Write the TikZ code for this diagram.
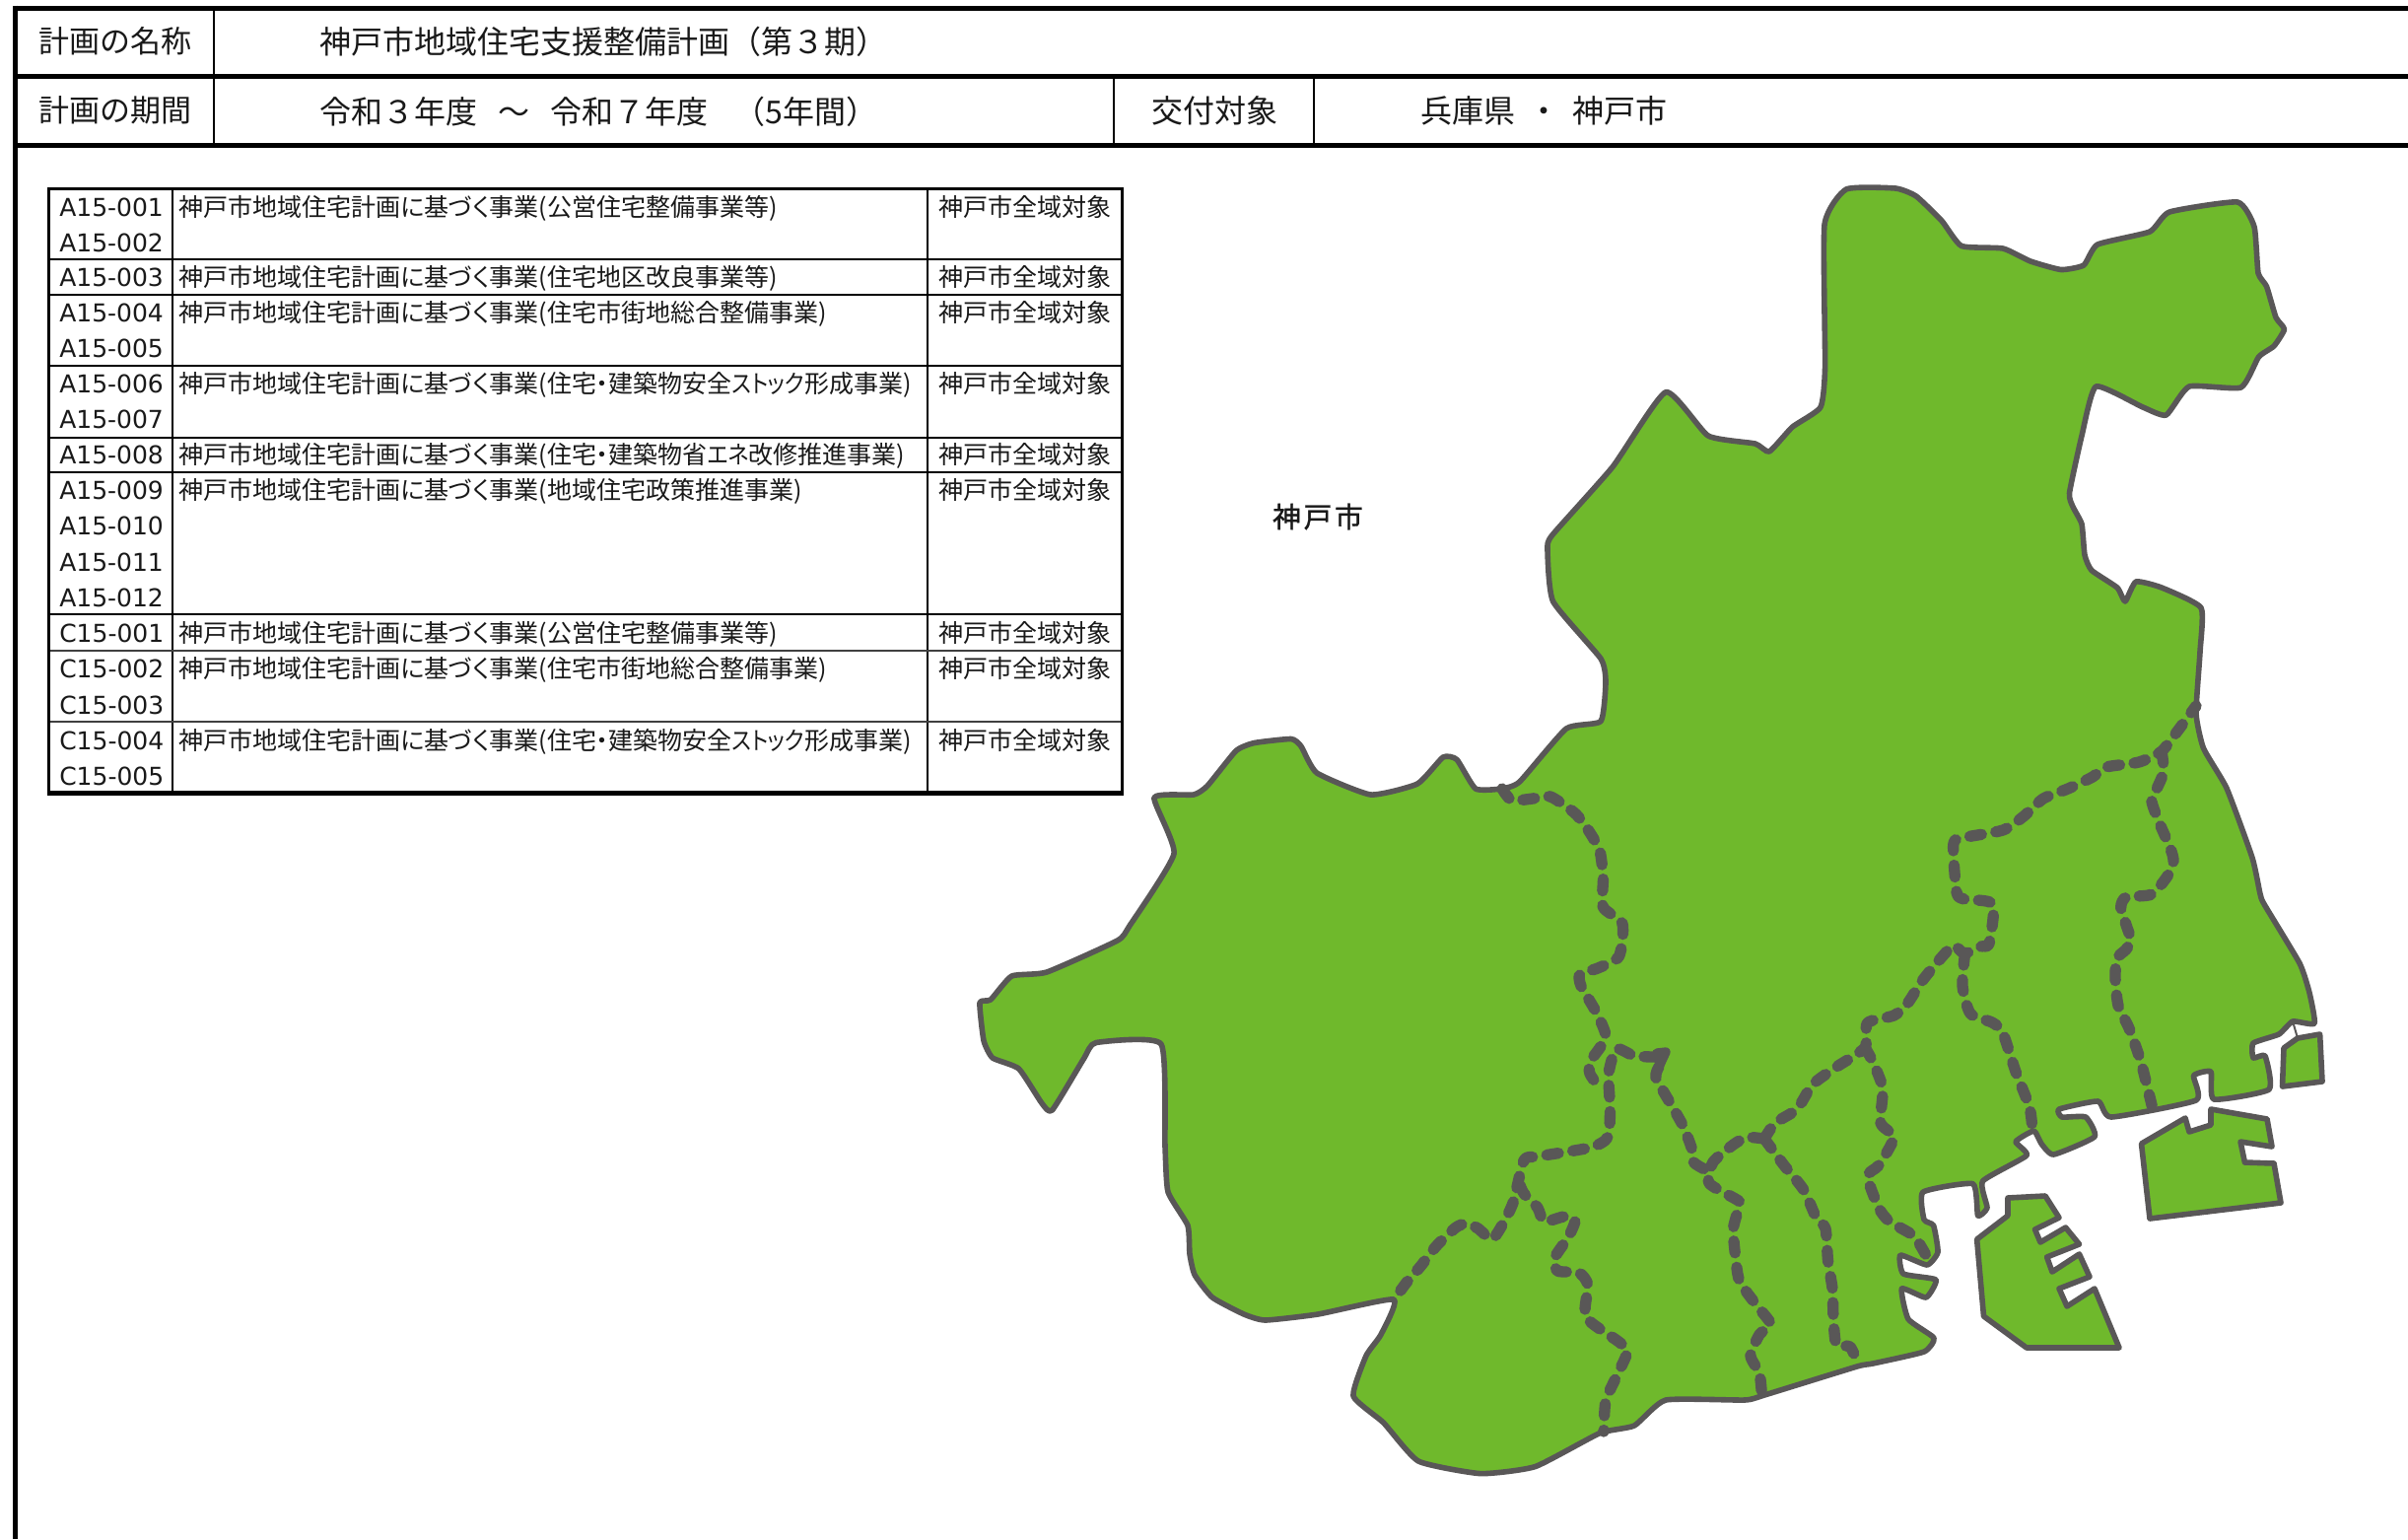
\documentclass[tikz,border=0pt]{standalone}
\usepackage{fontspec}
\newfontfamily\jp{Noto Sans CJK JP}
\newfontfamily\jpp[RawFeature={+palt}]{Noto Sans CJK JP}
\newfontfamily\jpn[RawFeature={+palt},FakeStretch=0.88]{Noto Sans CJK JP}
\newfontfamily\jpb[FakeBold=1.2,LetterSpace=10]{Noto Sans CJK JP}
\newfontfamily\lat{DejaVu Sans}
\definecolor{mapgreen}{HTML}{6FB92C}
\definecolor{mapline}{HTML}{595757}
\tikzset{
  head/.style={anchor=base west,inner sep=0pt,font=\jp\fontsize{24pt}{24pt}\selectfont,text=black!90},
  sidehead/.style={anchor=base west,inner sep=0pt,font=\jp\fontsize{23.25pt}{23.25pt}\selectfont,text=black!90},
  codetxt/.style={anchor=base west,inner sep=0pt,font=\lat\fontsize{18.75pt}{18.75pt}\selectfont,text=black!90},
  desctxt/.style={anchor=base west,inner sep=0pt,font=\jpp\fontsize{18.75pt}{18.75pt}\selectfont,text=black!90},
  areatxt/.style={anchor=base west,inner sep=0pt,font=\jp\fontsize{18.75pt}{18.75pt}\selectfont,text=black!90},
  heavy/.style={line width=3.9pt,black},
  thinrule/.style={line width=1.5pt,black},
  cellrule/.style={line width=2pt,black},
  land/.style={fill=mapgreen,draw=mapline,line width=4.2pt,line join=round},
  ward/.style={draw=mapline,line width=8.5pt,line cap=round,line join=round,dash pattern=on 9pt off 11pt},
  bridge/.style={draw=mapline,line width=1.5pt}
}
\begin{document}
\begin{tikzpicture}[x=0.75pt,y=-0.75pt]
\useasboundingbox (0,0) rectangle (2443,1561);
\fill[white] (0,0) rectangle (2443,1561);
% header frame
\draw[heavy] (15.5,5.5) -- (15.5,1561);
\draw[heavy] (13,8.3) -- (2443,8.3);
\draw[heavy] (13,77.5) -- (2443,77.5);
\draw[heavy] (13,147.5) -- (2443,147.5);
\draw[thinrule] (217,8) -- (217,147);
\draw[thinrule] (1130,77) -- (1130,147);
\draw[thinrule] (1333,77) -- (1333,147);
\node[sidehead] (t1) at (39,53) {計画の名称};
\node[head] (t2) at (324,54) {神戸市地域住宅支援整備計画（第３期）};
\node[sidehead] (t3) at (39,123) {計画の期間};
\node[head] (t4) at (324,125) {令和３年度\hspace{16pt}～\hspace{16pt}令和７年度\hspace{19pt}（5年間）};
\node[head] (t5) at (1168,124) {交付対象};
\node[head] (t6) at (1441,124) {兵庫県\hspace{10pt}・\hspace{10pt}神戸市};
% table
\draw[cellrule] (175,191.5) -- (175,804);
\draw[cellrule] (941,191.5) -- (941,804);
\foreach \yy in {263,299,371,444,479,623}
  \draw[cellrule] (49.5,\yy) -- (1138,\yy);
\foreach \yy in {660,732}
  \draw[cellrule,black!75] (49.5,\yy) -- (1138,\yy);
\draw[line width=2.8pt,black] (1138.5,805) -- (1138.5,191.5) -- (49.5,191.5) -- (49.5,805);
\draw[line width=3.4pt,black] (48,804.5) -- (1140,804.5);
\foreach \i/\yy/\c in {1/219/A15-001,2/255/A15-002,3/290.5/A15-003,4/326.5/A15-004,5/362.5/A15-005,6/398.5/A15-006,7/434.5/A15-007,8/470.5/A15-008,9/506.5/A15-009,10/542.5/A15-010,11/579.5/A15-011,12/615.5/A15-012,13/651/C15-001,14/687/C15-002,15/724/C15-003,16/760/C15-004,17/796/C15-005}
  \node[codetxt] (code\i) at (60,\yy) {\c};
\foreach \i/\yy/\c in {1/219/公営住宅整備事業等,2/290.5/住宅地区改良事業等,3/326.5/住宅市街地総合整備事業,4/398.5/住宅・建築物安全{\jpn ストック}形成事業,5/470.5/住宅・建築物省{\jpn エネ}改修推進事業,6/506.5/地域住宅政策推進事業,7/651/公営住宅整備事業等,8/687/住宅市街地総合整備事業,9/760/住宅・建築物安全{\jpn ストック}形成事業}{
  \node[desctxt] (desc\i) at (181,\yy) {神戸市地域住宅計画に基づく事業(\c)};
  \node[areatxt] (area\i) at (952,\yy) {神戸市全域対象};
}
% map: mainland
\draw[land] plot[smooth cycle,tension=0.3] coordinates {
(1873,192)(1923,191)(1944,199)(1970,224)(1990,249.5)(2032,252)(2060,265)(2091,273.5)(2114,269)(2128,248)(2181,235)(2201,215)(2270,205)(2287,230)(2291,277)(2299.5,290.5)(2309,322)(2317.5,334)(2307,351)(2291.5,362)(2273.5,393)(2221,392)(2197.6,421)(2174,413)(2126.5,392)(2112,442)(2099.5,500)(2103,514)(2112,531.6)(2115,563)(2122,578.5)(2148,596)(2156,610)(2167,590)(2193,596)(2233,616.4)(2232,661)(2228,723.6)(2235.5,759)(2259,799.5)(2285,870)(2293,906.7)(2297,917)(2333,977)(2343,1007)(2348,1038)(2326,1036)(2312,1049)(2286,1058)(2286,1073)(2298,1071)(2302,1105)(2246,1115)(2243,1087)(2225.5,1091)(2228,1116)(2142,1133)(2128.5,1117)(2089,1125)(2092,1133)(2116,1133)(2125,1153)(2083.5,1171)(2071,1160)(2063.4,1147)(2045,1158)(2056,1172)(2011.5,1198)(2016,1225)(2006.6,1233)(2001.5,1200.7)(1951,1209)(1952,1237)(1961.6,1243)(1966,1270)(1955,1283)(1928,1273)(1931,1292)(1964,1298)(1954,1316)(1929.4,1307)(1936,1338)(1962,1357)(1952,1371)(1900,1383)(1884,1386)(1790,1415)(1770,1420)(1690,1420)(1658,1446)(1623,1453.6)(1557.6,1487.5)(1502,1494.6)(1439,1482)(1403.6,1443)(1373,1416)(1386,1375)(1401,1353.6)(1414,1318)(1337,1333)(1283.6,1339)(1262,1333)(1230,1316)(1212,1293)(1207,1272)(1205,1243)(1185,1209)(1182,1163)(1178,1059)(1112,1057.5)(1100,1073)(1067.5,1126)(1057,1119)(1033.6,1084)(1007,1073)(998,1055.5)(994,1017)(1005,1014)(1026.4,990)(1062,986)(1133.6,954)(1146,939)(1191,866)(1171,809)(1211,806)(1225,797)(1254,761.5)(1272.6,753.5)(1310,749.5)(1320,757)(1336,784)(1390.6,806)(1438,795)(1464,768)(1478,770.4)(1497,800)(1523,800)(1541.6,793)(1589,739)(1624,731.6)(1629,692)(1624,668)(1575.6,610)(1570,558)(1574.6,543)(1636,473.6)(1690,397.7)(1733,442)(1780.6,450)(1795,458)(1818.5,433)(1847,413)(1851.6,371)(1851,228)
};
% map: islands
\draw[land] plot coordinates {
(2005.6,1257)(2037,1233)(2037,1215)(2075,1213)(2089,1235)(2064.5,1247)(2070,1260)(2095.6,1245)(2109.5,1262)(2076.6,1275)(2082,1290)(2109.5,1272)(2120,1295)(2089,1307)(2097,1325)(2125,1307)(2150,1367)(2056,1367)(2012.5,1335)
} -- cycle;
\draw[land] plot coordinates {
(2172.5,1160)(2217,1134)(2221,1148)(2243,1141)(2243,1125)(2300,1135)(2305,1163)(2273,1158)(2277.4,1179)(2307,1180)(2314,1220)(2181,1236)
} -- cycle;
\draw[land] plot coordinates {
(2331,1053)(2353.6,1049)(2356,1097)(2315.5,1102)(2317,1063)
} -- cycle;
\draw[bridge] (2326,1036) -- (2331,1053);
% map: ward borders
\draw[ward] plot[smooth,tension=0.4] coordinates {(1524,800)(1533.6,811.7)(1555,810)(1573,808)(1598,825)(1612,843)(1623,863)(1626.4,890)(1626.4,920)(1646,937)(1642.5,970)(1621,982)(1603,988)(1604,1000)(1619,1026)(1629,1052)(1613,1077)(1613,1089)(1621,1101)};
\draw[ward] plot[smooth,tension=0.4] coordinates {(1680,1072)(1658,1071)(1640,1064)(1632,1089)(1633.5,1125)(1631,1153.6)(1613,1164)(1560,1173)(1546,1177)(1535,1220)(1522,1246)(1513,1257)(1499.5,1246)(1488,1241)(1477,1245)(1457,1264)(1441.5,1284)(1426,1302)(1414.7,1318)};
\draw[ward] plot[smooth,tension=0.4] coordinates {(1542,1202)(1546.4,1211)(1560,1225)(1566.5,1239)(1586.6,1234)(1598,1237.5)(1591,1255)(1577.7,1275)(1580,1289)(1602,1291)(1611,1303.6)(1609,1336)(1642.4,1361)(1651,1371)(1640,1396)(1629,1421)(1627,1452)};
\draw[ward] plot[smooth,tension=0.4] coordinates {(1683,1082)(1680,1093)(1694,1118)(1707,1141)(1716,1164)(1718,1178.6)(1729.5,1186)};
\draw[mapline,line width=7pt,line join=round,line cap=round] (1681,1068) -- (1690,1067) -- (1684,1080) -- cycle;
\draw[ward] plot[smooth,tension=0.4] coordinates {(1790,1155)(1801,1139)(1823,1125)(1839,1100)(1863.4,1082)(1892,1062.5)(1894.6,1037.5)(1921.4,1030)(1935,1018)(1950,995)(1968,973)(1982,959)(1993,967)(2010,960)(2018,957)(2021.7,917)(1993,912)(1985,905)(1981.7,857)(1990,850)(2032,842)(2053,828)(2073,810)(2098,800)(2123,788)(2137,778)(2170,773)(2193,762)(2209.5,741)(2228,716)};
\draw[ward] plot[smooth,tension=0.4] coordinates {(2193,762)(2195,783)(2186.7,803)(2183,813)(2190,833)(2201.7,860)(2205,873)(2200,887)(2183,907)(2157,910)(2151.7,920)(2157,938)(2161.7,953)(2157,963)(2147.6,972)(2146,992)(2149,1020)(2160,1043)(2172,1077)(2184,1125)};
\draw[ward] plot[smooth,tension=0.4] coordinates {(1993.5,967)(1991,1000)(1999,1028)(2021,1037)(2031.6,1047)(2045,1087)(2059,1123)(2062,1147)};
\draw[ward] plot[smooth,tension=0.4] coordinates {(1892,1062.5)(1899,1075)(1910,1103.6)(1908,1139)(1921.4,1153.6)(1906,1182)(1894.6,1193)(1906,1225)(1917,1239)(1941.5,1253.6)(1955,1275)};
\draw[ward] plot[smooth,tension=0.4] coordinates {(1790,1155)(1772,1153.6)(1758.5,1161)(1738,1178.6)(1734,1200)(1760.7,1216)(1765,1221)(1758.5,1246)(1760.7,1275)(1765,1300)(1783,1325)(1796.4,1343)(1785,1353.6)(1776,1375)(1785,1393)(1787.5,1416)};
\draw[ward] plot[smooth,tension=0.4] coordinates {(1790,1155)(1810,1182)(1830,1207)(1843,1236)(1852,1246)(1854.5,1278.6)(1859,1307)(1860,1336)(1863,1364)(1877,1366)(1886,1386)};
\node[inner sep=0pt,font=\jpb\fontsize{21.5pt}{21.5pt}\selectfont,text=black!90] (city) at (1337,524) {神戸市};
\end{tikzpicture}
\end{document}
